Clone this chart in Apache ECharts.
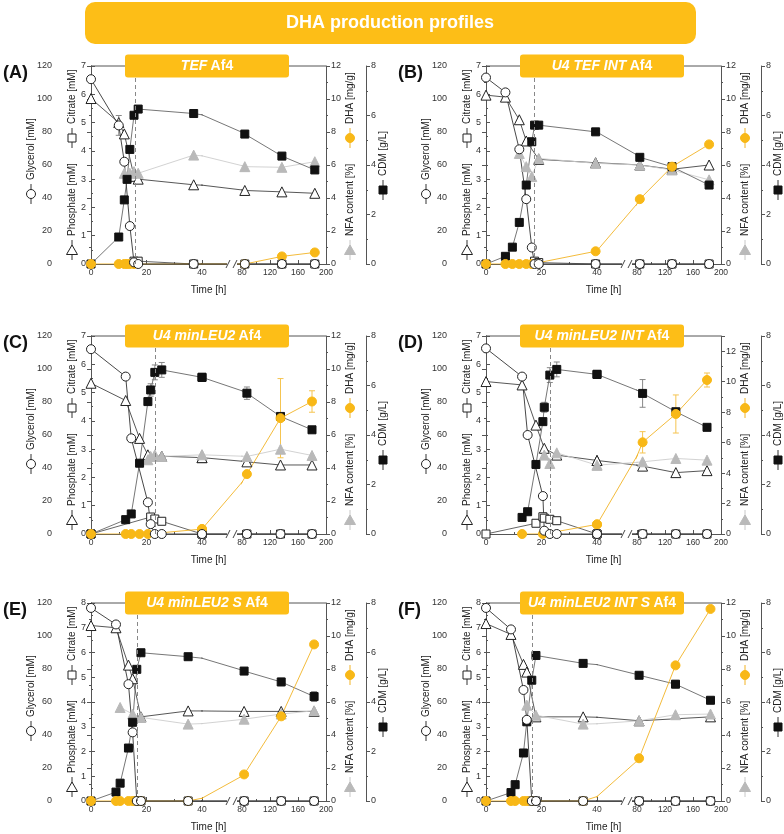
<!DOCTYPE html>
<html>
<head>
<meta charset="utf-8">
<title>DHA production profiles</title>
<script src="https://cdn.jsdelivr.net/npm/echarts@6.0.0/dist/echarts.min.js"></script>
<style>
  html, body { margin: 0; padding: 0; background: #fff; }
  #chart { width: 784px; height: 834px; }
</style>
</head>
<body>
<div id="chart"></div>
<script>
// sampling times [h] and measured values, one block per panel (null = not shown)
const timeA = [0, 10, 12, 13, 14, 15.5, 17, 37, 84, 137, 184];
const glycerolA = [112, 84, 62, null, 23, 1, 0, 0, 0, 0, 0];
const citrateA = [null, null, null, null, null, 0.1, 0.1, 0, 0, 0, 0];
const phosphateA = [5.85, 5.0, 4.6, null, null, 3.1, 3.0, 2.8, 2.6, 2.55, 2.5];
const dhaA = [0, 0, 0, 0, 0, 0, null, null, 0, 0.46, 0.7];
const nfaA = [null, null, 5.5, null, 5.5, 5.6, 5.5, 6.6, 5.9, 5.86, 6.2];
const cdmA = [0, 1.09, 2.59, 3.42, 4.63, 6.01, 6.26, 6.08, 5.25, 4.36, 3.8];
const glycerolErrA = [null, 6, null, null, null, null, null, null, null, null, null];
const feedA = 16;

const timeB = [0, 7, 9.5, 12, 14.5, 16.5, 17.5, 19, 39.5, 84, 130, 183];
const glycerolB = [113, 104, null, 69.5, 39.3, 10, 0, 0, 0, 0, 0, 0];
const citrateB = [null, null, null, null, null, null, 0.1, 0.05, 0, 0, 0, 0];
const phosphateB = [5.97, 5.9, null, 5.1, 4.35, null, null, 3.7, 3.58, 3.5, 3.35, 3.5];
const dhaB = [0, 0, 0, 0, 0, 0, null, null, 0.77, 3.93, 5.9, 7.25];
const nfaB = [null, null, null, 6.7, 5.9, 5.3, null, 6.4, 6.1, 6.0, 5.7, 5.1];
const cdmB = [0, 0.31, 0.68, 1.68, 3.19, 4.94, 5.61, 5.61, 5.34, 4.31, 3.93, 3.19];
const feedB = 17.5;

const timeC = [0, 12.5, 14.5, 17.5, 20.5, 21.5, 23, 25.5, 40, 87, 135, 180];
const glycerolC = [112, 95.4, 58, null, 19.2, 6, 0, 0, 0, 0, 0, 0];
const citrateC = [0, null, null, null, null, 0.6, 0.53, 0.45, 0, 0, 0, 0];
const phosphateC = [5.33, 4.72, null, 3.38, 2.8, null, null, 2.75, 2.7, 2.55, 2.44, 2.44];
const dhaC = [0, 0, 0, 0, 0, null, null, null, 0.3, 3.63, 7.02, 8.03];
const nfaC = [null, null, null, null, 4.5, 4.7, 4.8, 4.7, 4.8, 4.7, 5.14, 4.76];
const cdmC = [0, 0.58, 0.81, 2.86, 5.35, 5.82, 6.53, 6.63, 6.33, 5.69, 4.75, 4.21];
const dhaErrC = [null, null, null, null, null, null, null, null, null, null, 2.4, 0.65];
const cdmErrC = [null, null, null, null, null, 0.25, 0.3, 0.3, 0.15, 0.25, null, null];
const feedC = 23.2;

const timeD = [0, 13, 15, 18, 20.5, 21, 23, 25.5, 40, 88, 135.5, 180];
const glycerolD = [112.5, 95.4, 60, null, 23, 2, 0, 0, 0, 0, 0, 0];
const citrateD = [0, null, null, 0.38, 0.61, 0.56, 0.52, 0.47, 0, 0, 0, 0];
const phosphateD = [5.39, 5.27, null, 3.85, null, 3.03, null, 2.79, 2.6, 2.4, 2.17, 2.24];
const dhaD = [null, 0, null, null, 0, null, null, null, 0.63, 6.02, 7.88, 10.11];
const nfaD = [null, null, null, null, null, 5.18, 4.63, 5.33, 4.52, 4.74, 4.96, 4.85];
const cdmD = [null, 0.67, 0.9, 2.81, 4.54, 5.12, 6.42, 6.65, 6.45, 5.68, 4.94, 4.31];
const dhaErrD = [null, null, null, null, null, null, null, null, null, 0.7, 1.25, 0.46];
const cdmErrD = [null, null, null, null, null, 0.2, 0.3, 0.3, null, 0.56, null, null];
const feedD = 23.1;

const timeE = [0, 9, 10.5, 13.5, 15, 16.5, 18, 35, 83, 136, 183];
const glycerolE = [117, 107, null, 70.8, 41.6, 0, 0, 0, 0, 0, 0];
const citrateE = [null, null, null, null, null, 0, 0, 0, 0, 0, 0];
const phosphateE = [7.09, 7.0, null, 5.49, 4.94, null, 3.4, 3.64, 3.62, 3.62, 3.62];
const dhaE = [0, 0, 0, 0, 0, 0, 0, 0, 1.61, 5.13, 9.49];
const nfaE = [null, null, 5.67, null, 5.27, null, 5.07, 4.66, 4.96, 5.27, 5.47];
const cdmE = [0, 0.36, 0.72, 2.14, 3.18, 5.32, 5.99, 5.83, 5.25, 4.81, 4.22];
const cdmErrE = [null, null, null, null, null, null, null, null, null, 0.15, 0.2];
const feedE = 16.8;

const timeF = [0, 9, 10.5, 13.5, 14.7, 16.5, 18, 35, 83, 135, 185];
const glycerolF = [117, 104, null, 67.3, 49.2, 0, 0, 0, 0, 0, 0];
const citrateF = [null, null, null, null, null, 0, 0, 0, 0, 0, 0];
const phosphateF = [7.17, 6.73, null, 5.52, 5.21, null, 3.4, 3.4, 3.24, null, 3.4];
const dhaF = [0, 0, 0, 0, 0, 0, null, 0, 2.59, 8.22, 11.64];
const nfaF = [null, null, null, null, 5.81, null, 5.2, 4.66, 4.86, 5.23, 5.27];
const cdmF = [0, 0.34, 0.66, 1.94, 3.2, 4.88, 5.88, 5.56, 5.08, 4.72, 4.07];
const cdmErrF = [null, null, null, null, null, null, null, null, null, 0.15, null];
const feedF = 16.5;

// axis tick labels
const glycerolTicks = [0, 120, 20];
const timeLeftTicks = [0, 40, 20];     // before the axis break
const timeRightTicks = [80, 200, 40];  // after the axis break

const panels = [
  { letter: '(A)', strain: 'TEF', time: timeA, glycerol: glycerolA, citrate: citrateA, phosphate: phosphateA, dha: dhaA, nfa: nfaA, cdm: cdmA, err: { glycerol: glycerolErrA }, feed: feedA, citMax: 7, dhaMax: 12 },
  { letter: '(B)', strain: 'U4 TEF INT', time: timeB, glycerol: glycerolB, citrate: citrateB, phosphate: phosphateB, dha: dhaB, nfa: nfaB, cdm: cdmB, err: {}, feed: feedB, citMax: 7, dhaMax: 12 },
  { letter: '(C)', strain: 'U4 minLEU2', time: timeC, glycerol: glycerolC, citrate: citrateC, phosphate: phosphateC, dha: dhaC, nfa: nfaC, cdm: cdmC, err: { dha: dhaErrC, cdm: cdmErrC }, feed: feedC, citMax: 7, dhaMax: 12 },
  { letter: '(D)', strain: 'U4 minLEU2 INT', time: timeD, glycerol: glycerolD, citrate: citrateD, phosphate: phosphateD, dha: dhaD, nfa: nfaD, cdm: cdmD, err: { dha: dhaErrD, cdm: cdmErrD }, feed: feedD, citMax: 7, dhaMax: 13 },
  { letter: '(E)', strain: 'U4 minLEU2 S', time: timeE, glycerol: glycerolE, citrate: citrateE, phosphate: phosphateE, dha: dhaE, nfa: nfaE, cdm: cdmE, err: { cdm: cdmErrE }, feed: feedE, citMax: 8, dhaMax: 12 },
  { letter: '(F)', strain: 'U4 minLEU2 INT S', time: timeF, glycerol: glycerolF, citrate: citrateF, phosphate: phosphateF, dha: dhaF, nfa: nfaF, cdm: cdmF, err: { cdm: cdmErrF }, feed: feedF, citMax: 8, dhaMax: 12 }
];

const FONT = '"Liberation Sans", Arial, sans-serif';
const YELLOW = '#FDBE17';
const AXIS = '#555';

// series look, drawn bottom -> top
const looks = [
  { key: 'phosphate', axis: 1, symbol: 'triangle', size: 10, fill: '#fff', border: '#222', line: '#444', err: '#888' },
  { key: 'citrate', axis: 1, symbol: 'rect', size: 8, fill: '#fff', border: '#222', line: '#555', err: '#888' },
  { key: 'nfa', axis: 2, symbol: 'triangle', size: 10, fill: '#b9b9b9', border: '#b9b9b9', line: '#cdcdcd', err: '#ccc' },
  { key: 'cdm', axis: 3, symbol: 'rect', size: 8, fill: '#111', border: '#111', line: '#666', err: '#888' },
  { key: 'dha', axis: 2, symbol: 'circle', size: 9, fill: '#F8B817', border: '#F8B817', line: '#F2B325', err: '#F5C450' },
  { key: 'glycerol', axis: 0, symbol: 'circle', size: 9, fill: '#fff', border: '#222', line: '#333', err: '#888' }
];

// the broken time axis: three pieces side by side
const segs = [
  { left: 91, width: 111, min: timeLeftTicks[0], max: timeLeftTicks[1], interval: timeLeftTicks[2] },
  { left: 202, width: 40, min: timeLeftTicks[1], max: timeRightTicks[0], interval: null },
  { left: 242, width: 84, min: timeRightTicks[0], max: timeRightTicks[1], interval: timeRightTicks[2] }
];
const TOP = 66, H = 198;
const colX = [0, 395], rowY = [0, 270, 537];

const grids = [], xAxes = [], yAxes = [], series = [], graphics = [];

function labelStyle(extra) {
  return Object.assign({ fontSize: 9, color: '#333', fontFamily: FONT }, extra);
}

function nameLabel(x, y, text, mark, fill, stroke, lineColor) {
  const els = [{ type: 'line', z: 100, shape: { x1: x, y1: y - 10, x2: x, y2: y + 10 }, style: { stroke: lineColor, lineWidth: 1 } }];
  if (mark === 'circle') {
    els.push({ type: 'circle', z: 101, shape: { cx: x, cy: y, r: 4.5 }, style: { fill, stroke, lineWidth: 1 } });
  } else if (mark === 'rect') {
    els.push({ type: 'rect', z: 101, shape: { x: x - 4, y: y - 4, width: 8, height: 8 }, style: { fill, stroke, lineWidth: 1 } });
  } else {
    els.push({ type: 'polygon', z: 101, shape: { points: [[x, y - 5], [x + 5.5, y + 4.5], [x - 5.5, y + 4.5]] }, style: { fill, stroke, lineWidth: 1 } });
  }
  els.push({
    type: 'text', z: 101, x: x, y: y - 14, rotation: Math.PI / 2,
    style: { text, fontSize: 10, fontFamily: FONT, fill: '#222', align: 'left', textAlign: 'left', verticalAlign: 'middle', textVerticalAlign: 'middle' }
  });
  return els;
}

// error bars: value, +/- error, small caps
function renderErr(params, api) {
  const t = api.value(0), v = api.value(1), e = api.value(2);
  const hi = api.coord([t, v + e]), lo = api.coord([t, v - e]);
  const st = { stroke: api.visual('color'), lineWidth: 1 };
  return {
    type: 'group',
    children: [
      { type: 'line', shape: { x1: hi[0], y1: hi[1], x2: lo[0], y2: lo[1] }, style: st },
      { type: 'line', shape: { x1: hi[0] - 3, y1: hi[1], x2: hi[0] + 3, y2: hi[1] }, style: st },
      { type: 'line', shape: { x1: lo[0] - 3, y1: lo[1], x2: lo[0] + 3, y2: lo[1] }, style: st }
    ]
  };
}

panels.forEach((p, k) => {
  const dx = colX[k % 2], dy = rowY[Math.floor(k / 2)];
  const yDefs = [
    { max: glycerolTicks[1], interval: glycerolTicks[2], position: 'left', offset: 34, showIn: 0, inside: false },
    { max: p.citMax, interval: 1, position: 'left', offset: 0, showIn: 0, inside: true },
    { max: p.dhaMax, interval: 2, position: 'right', offset: 0, showIn: 2, inside: false },
    { max: 8, interval: 2, position: 'right', offset: 40, showIn: 2, inside: false }
  ];

  segs.forEach((s, si) => {
    const gi = grids.length;
    grids.push({ left: s.left + dx, top: TOP + dy, width: s.width, height: H, outerBoundsMode: 'none', containLabel: false });
    const xi = xAxes.length;
    xAxes.push({
      gridIndex: gi, type: 'value', min: s.min, max: s.max,
      interval: s.interval || undefined,
      axisLine: { show: true, lineStyle: { color: AXIS, width: 1 } },
      axisTick: { show: si !== 1, inside: true, length: 4, lineStyle: { color: AXIS } },
      minorTick: { show: si !== 1, splitNumber: 2, length: 2, lineStyle: { color: AXIS } },
      axisLabel: labelStyle({ show: si !== 1, fontSize: 8.5, margin: 4 }),
      splitLine: { show: false }
    });
    const yBase = yAxes.length;
    yDefs.forEach(d => {
      yAxes.push({
        gridIndex: gi, type: 'value', min: 0, max: d.max, interval: d.interval,
        position: d.position, offset: d.offset, show: si === d.showIn,
        axisLine: { show: true, lineStyle: { color: AXIS, width: 1 } },
        axisTick: { show: true, inside: d.inside, length: 4, lineStyle: { color: AXIS } },
        minorTick: { show: true, splitNumber: 2, length: 2, lineStyle: { color: AXIS } },
        axisLabel: labelStyle({ margin: 5, showMaxLabel: d.max === 13 ? false : null }),
        splitLine: { show: false }
      });
    });

    // error bars first so the markers sit on top
    looks.forEach(l => {
      const errs = p.err[l.key];
      if (!errs) return;
      const vals = p[l.key];
      const data = p.time.map((t, i) => [t, vals[i], errs[i]]).filter(v => v[1] !== null && v[2] !== null);
      series.push({
        type: 'custom', xAxisIndex: xi, yAxisIndex: yBase + l.axis, data, clip: true, silent: true,
        animation: false, itemStyle: { color: l.err }, renderItem: renderErr,
        encode: { x: 0, y: 1 }
      });
    });

    looks.forEach(l => {
      const vals = p[l.key];
      const data = p.time.map((t, i) => [t, vals[i]]).filter(v => v[1] !== null);
      const ser = {
        type: 'line', xAxisIndex: xi, yAxisIndex: yBase + l.axis, data,
        clip: true, animation: false, silent: true, connectNulls: true,
        symbol: l.symbol, symbolSize: l.size, showAllSymbol: true,
        itemStyle: { color: l.fill, borderColor: l.border, borderWidth: 1, opacity: 1 },
        lineStyle: { color: l.line, width: 0.9 }
      };
      if (l.key === 'glycerol' && si === 0) {
        ser.markLine = {
          silent: true, symbol: 'none', animation: false, label: { show: false },
          lineStyle: { color: '#888', type: [4, 3], width: 1 },
          data: [{ xAxis: p.feed }]
        };
      }
      series.push(ser);
    });
  });

  const left = 91 + dx, right = 326 + dx, top = TOP + dy, bottom = TOP + H + dy;
  // frame top, axis break and labels
  graphics.push({ type: 'line', z: 99, shape: { x1: left, y1: top, x2: right, y2: top }, style: { stroke: AXIS, lineWidth: 1 } });
  const bx = 232 + dx;
  graphics.push({ type: 'rect', z: 100, shape: { x: bx - 5, y: bottom - 3, width: 10, height: 6 }, style: { fill: '#fff' } });
  graphics.push({ type: 'line', z: 101, shape: { x1: bx - 6, y1: bottom + 4, x2: bx - 2, y2: bottom - 4 }, style: { stroke: '#444', lineWidth: 1 } });
  graphics.push({ type: 'line', z: 101, shape: { x1: bx + 1, y1: bottom + 4, x2: bx + 5, y2: bottom - 4 }, style: { stroke: '#444', lineWidth: 1 } });
  graphics.push({
    type: 'text', z: 101, x: 208.5 + dx, y: bottom + 26,
    style: { text: 'Time [h]', fontSize: 10, fontFamily: FONT, fill: '#222', align: 'center', textAlign: 'center', verticalAlign: 'middle', textVerticalAlign: 'middle' }
  });
  graphics.push({
    type: 'text', z: 101, x: 3 + dx, y: top + 7,
    style: { text: p.letter, fontSize: 18, fontWeight: 'bold', fontFamily: FONT, fill: '#111', align: 'left', textAlign: 'left', verticalAlign: 'middle', textVerticalAlign: 'middle' }
  });
  graphics.push({ type: 'rect', z: 102, shape: { x: 125 + dx, y: top - 11.5, width: 164, height: 23, r: 3 }, style: { fill: YELLOW } });
  graphics.push({
    type: 'text', z: 103, x: 207 + dx, y: top,
    style: {
      text: '{i|' + p.strain + '} {n|Af4}', align: 'center', textAlign: 'center', verticalAlign: 'middle', textVerticalAlign: 'middle',
      rich: {
        i: { fontSize: 14, fontWeight: 'bold', fontStyle: 'italic', fontFamily: FONT, fill: '#fff', color: '#fff' },
        n: { fontSize: 14, fontWeight: 'bold', fontFamily: FONT, fill: '#fff', color: '#fff' }
      }
    }
  });
  graphics.push(...nameLabel(31 + dx, top + 128, 'Glycerol [mM]', 'circle', '#fff', '#222', '#333'));
  graphics.push(...nameLabel(72 + dx, top + 72, 'Citrate [mM]', 'rect', '#fff', '#222', '#333'));
  graphics.push(...nameLabel(72 + dx, top + 184, 'Phosphate [mM]', 'triangle', '#fff', '#222', '#333'));
  graphics.push(...nameLabel(350 + dx, top + 72, 'DHA [mg/g]', 'circle', '#F8B817', '#F8B817', '#F2B325'));
  graphics.push(...nameLabel(350 + dx, top + 184, 'NFA content [%]', 'triangle', '#b9b9b9', '#b9b9b9', '#c8c8c8'));
  graphics.push(...nameLabel(383 + dx, top + 124, 'CDM [g/L]', 'rect', '#111', '#111', '#333'));
});

// title banner
graphics.unshift(
  { type: 'rect', z: 100, shape: { x: 85, y: 2, width: 611, height: 42, r: 10 }, style: { fill: YELLOW } },
  {
    type: 'text', z: 101, x: 390, y: 23,
    style: { text: 'DHA production profiles', fontSize: 18, fontWeight: 'bold', fontFamily: FONT, fill: '#fff', align: 'center', textAlign: 'center', verticalAlign: 'middle', textVerticalAlign: 'middle' }
  }
);

const chart = echarts.init(document.getElementById('chart'));
chart.setOption({
  animation: false,
  textStyle: { fontFamily: FONT },
  grid: grids,
  xAxis: xAxes,
  yAxis: yAxes,
  series: series,
  graphic: { elements: graphics }
});
</script>
</body>
</html>
